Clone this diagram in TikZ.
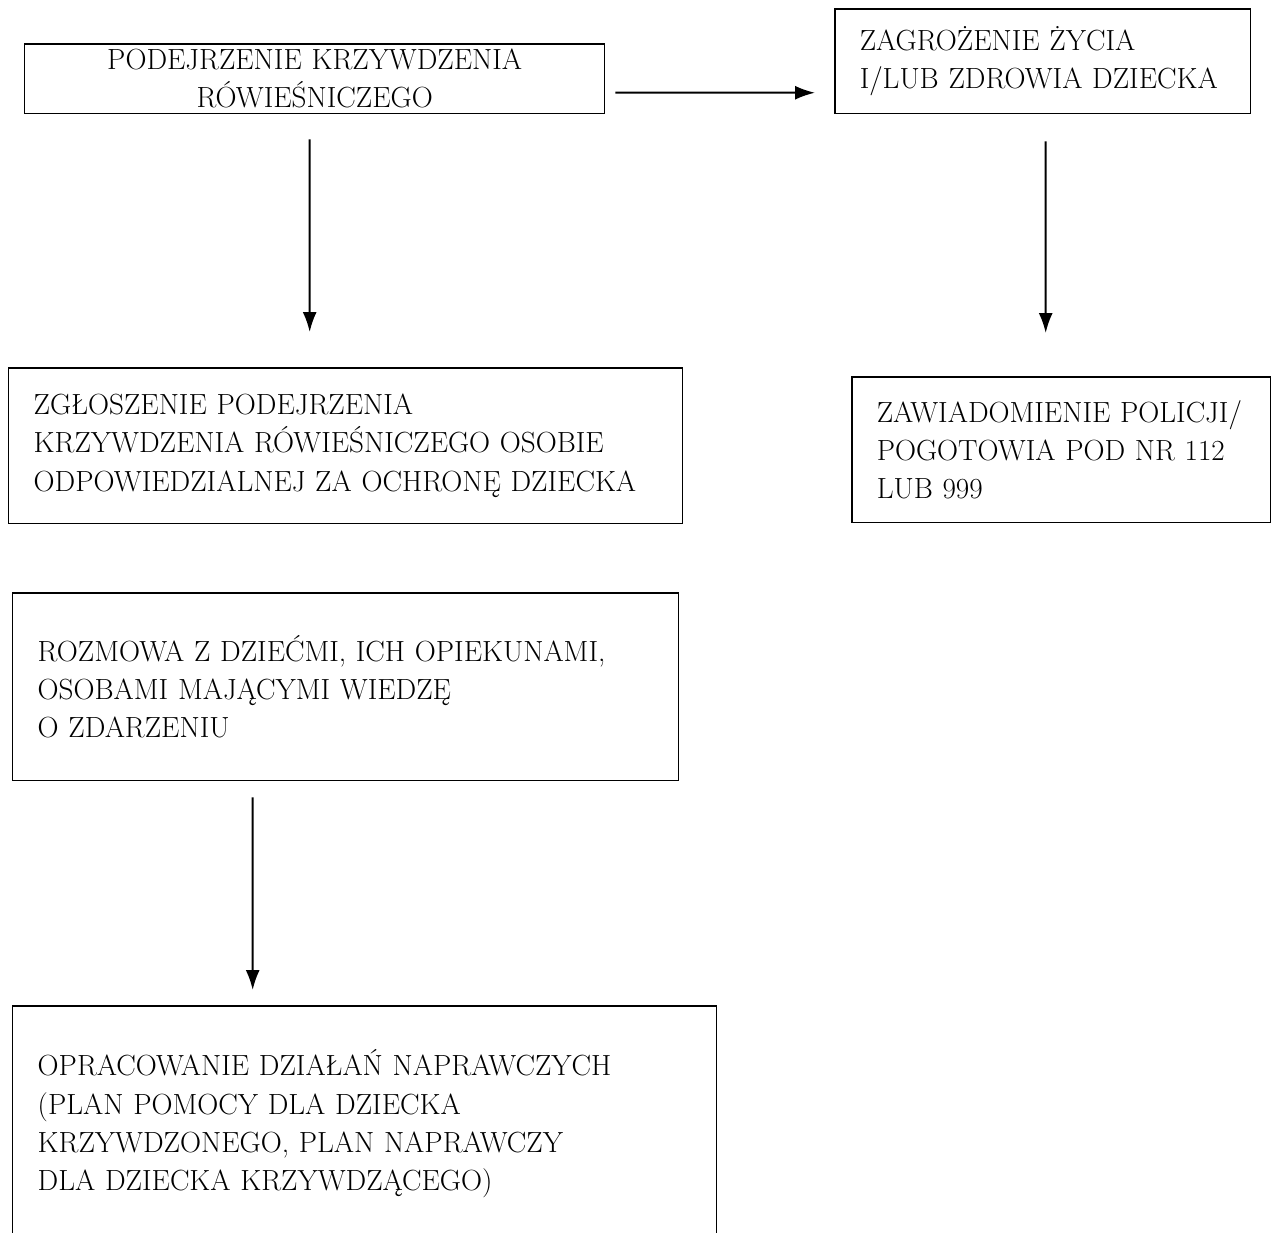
\documentclass[tikz,border=0pt]{standalone}
\usepackage{tikz}
\usetikzlibrary{arrows.meta}
\usetikzlibrary{positioning}
\tikzstyle{box}=[draw,line width=0.03cm,anchor=north west,inner xsep=0.5cm,inner ysep=0pt,align=left,font=\fontsize{16.6}{21.7}\selectfont]

\begin{document}
\begin{tikzpicture}[x=0.02cm,y=-0.02cm,line width=0.04cm,>={Latex[length=0.4cm,width=0.28cm]}]
\useasboundingbox (0,0) rectangle (1272,1232);
\node [box,align=center,minimum width=11.6cm,minimum height=1.4cm,text width=10.6cm] (podejrzenie) at (24,43)
  {PODEJRZENIE KRZYWDZENIA\\ RÓWIEŚNICZEGO};
\node [box,minimum width=8.32cm,minimum height=2.1cm,text width=7.32cm] (zagrozenie) at (834,8)
  {ZAGROŻENIE ŻYCIA\\ I/LUB ZDROWIA DZIECKA};
\node [box,minimum width=13.48cm,minimum height=3.12cm,text width=12.48cm] (zgloszenie) at (8,367)
  {ZGŁOSZENIE PODEJRZENIA\\ KRZYWDZENIA RÓWIEŚNICZEGO OSOBIE\\ ODPOWIEDZIALNEJ ZA OCHRONĘ DZIECKA};
\node [box,minimum width=8.38cm,minimum height=2.92cm,text width=7.38cm] (policja) at (851,376)
  {ZAWIADOMIENIE POLICJI/\\ POGOTOWIA POD NR 112\\ LUB 999};
\node [box,minimum width=13.32cm,minimum height=3.76cm,text width=12.32cm] (rozmowa) at (12,592)
  {ROZMOWA Z DZIEĆMI, ICH OPIEKUNAMI,\\ OSOBAMI MAJĄCYMI WIEDZĘ\\ O ZDARZENIU};
\node [box,minimum width=14.08cm,minimum height=4.72cm,text width=13.08cm] (plan) at (12,1005)
  {OPRACOWANIE DZIAŁAŃ NAPRAWCZYCH\\ (PLAN POMOCY DLA DZIECKA\\ KRZYWDZONEGO, PLAN NAPRAWCZY\\ DLA DZIECKA KRZYWDZĄCEGO)};

\coordinate (A) at ([xshift=0.2cm,yshift=-0.28cm]podejrzenie.east);
\coordinate (B) at ([xshift=-0.38cm,yshift=-0.63cm]zagrozenie.west);
\coordinate (C) at ([xshift=-0.1cm,yshift=-0.5cm]podejrzenie.south);
\coordinate (D) at ([xshift=-0.72cm,yshift=0.7cm]zgloszenie.north);
\coordinate (E) at ([xshift=0.06cm,yshift=-0.54cm]zagrozenie.south);
\coordinate (F) at ([xshift=-0.31cm,yshift=0.86cm]policja.north);
\coordinate (G) at ([xshift=-1.86cm,yshift=-0.32cm]rozmowa.south);
\coordinate (H) at ([xshift=-2.24cm,yshift=0.3cm]plan.north);

\draw[->] (A) -- (B);
\draw[->] (C) -- (D);
\draw[->] (E) -- (F);
\draw[->] (G) -- (H);
\end{tikzpicture}
\end{document}
